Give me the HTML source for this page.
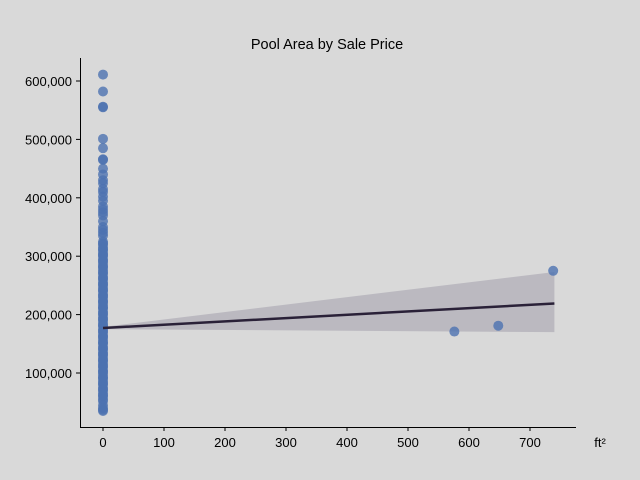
<!DOCTYPE html>
<html><head><meta charset="utf-8"><style>
html,body{margin:0;padding:0;overflow:hidden;width:640px;height:480px;background:#d9d9d9;font-family:"Liberation Sans",sans-serif}
svg{display:block}
svg text{font-family:"Liberation Sans",sans-serif;font-size:13px;fill:#000}
</style></head><body>
<svg id="c" width="640" height="480" xmlns="http://www.w3.org/2000/svg">
<rect width="640" height="480" fill="#d9d9d9"/>
<text x="327" y="49" text-anchor="middle" style="font-size:14.5px">Pool Area by Sale Price</text>
<g id="band"></g><g id="pts"></g><g id="line"></g><g id="axes"></g>
<text x="600" y="447" text-anchor="middle">ft²</text>
</svg>
<script>
const poolAreas=[576,648,738];
const poolPrices=[171000,181000,275000];
const zeroPrices=[611000,582000,556000,555000,501000,485000,466000,465000,450000,440000,430000,425000,415000,410000,402000,395000,385000,380000,375000,370000,360000,350000,345000,340000,335000,325000,320000,315000,310000,305000,300000,295000,290000,285000,280000,275000,270000,265000,260000,255000,250000,245000,240000,235000,230000,225000,220000,215000,210000,205000,200000,195000,190000,185000,180000,175000,170000,165000,160000,155000,150000,145000,140000,135000,130000,125000,120000,115000,110000,105000,100000,95000,90000,85000,80000,75000,70000,65000,60000,55000,52000,45000,40000,37000,35000,322000,312000,302000,292000,282000,272000,262000,252000,242000,232000,222000,212000,202000,192000,182000,172000,162000,152000,142000,132000,122000,112000,102000,92000,82000,72000,62000];
const fitX=[0,740];
const fitY=[177000,219000];
const bandX=[0,370,740];
const bandLo=[175000,172500,170000];
const bandHi=[179000,226000,273000];
const xTicks=[0,100,200,300,400,500,600,700];
const yTicks=[100000,200000,300000,400000,500000,600000];
const X=v=>103+v*0.61, Y=v=>373-(v-100000)*0.000584;
const ns="http://www.w3.org/2000/svg";
function mk(t,p,a){const e=document.createElementNS(ns,t);for(const k in a)e.setAttribute(k,a[k]);document.getElementById(p).appendChild(e);return e;}
let d="M"+bandX.map((x,i)=>X(x)+","+Y(bandHi[i])).join("L")+"L"+bandX.slice().reverse().map((x,i)=>X(x)+","+Y(bandLo[bandX.length-1-i])).join("L")+"Z";
const b=mk("path","band",{d:d,fill:"#bbb9c0"});


zeroPrices.forEach(p=>{const c=mk("circle","pts",{cx:X(0),cy:Y(p),r:5,fill:"#4c72b0","fill-opacity":0.8});

});
poolAreas.forEach((a,i)=>{const c=mk("circle","pts",{cx:X(a),cy:Y(poolPrices[i]),r:5,fill:"#4c72b0","fill-opacity":0.8});

});
const l=mk("line","line",{x1:X(fitX[0]),y1:Y(fitY[0]),x2:X(fitX[1]),y2:Y(fitY[1]),stroke:"#2a2138","stroke-width":2.5});


const sp=mk("path","axes",{d:"M80.5,58V427.5H576",fill:"none",stroke:"#000","stroke-width":1});


xTicks.forEach(v=>{mk("line","axes",{x1:X(v),x2:X(v),y1:427,y2:431,stroke:"#000"});
const t=mk("text","axes",{x:X(v),y:447,"text-anchor":"middle"});t.textContent=v;

});
yTicks.forEach(v=>{mk("line","axes",{x1:76,x2:80,y1:Y(v),y2:Y(v),stroke:"#000"});
const t=mk("text","axes",{x:72,y:Y(v)+5,"text-anchor":"end"});t.textContent=v.toLocaleString("en-US");

});
</script>
</body></html>
